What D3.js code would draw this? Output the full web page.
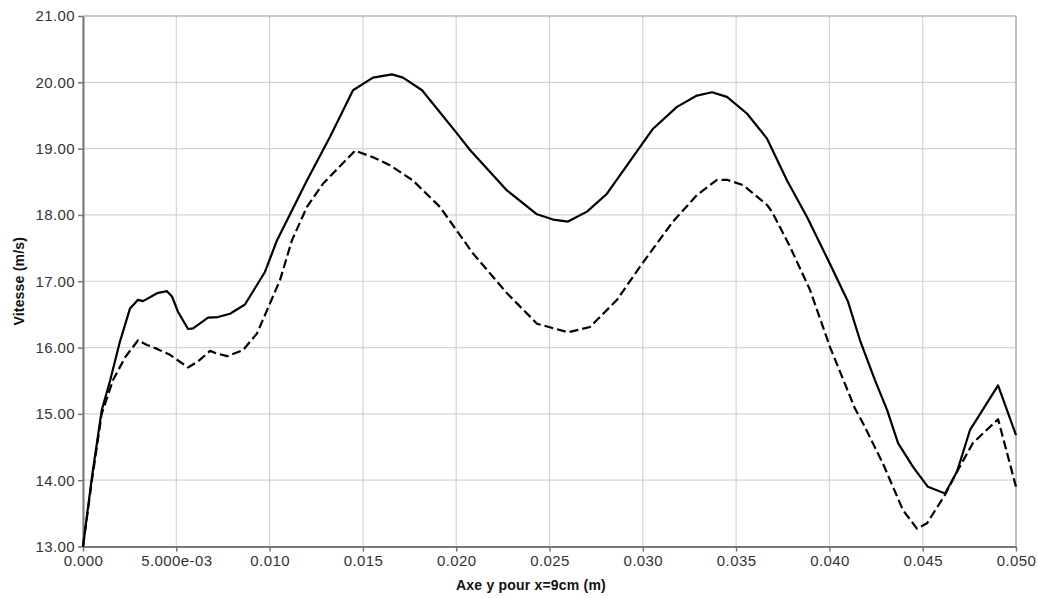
<!DOCTYPE html>
<html><head><meta charset="utf-8">
<script src="https://cdn.jsdelivr.net/npm/d3@7"></script>
<style>
html,body{margin:0;padding:0;background:#fff;}
svg{display:block;font-family:"Liberation Sans",Arial,Helvetica,sans-serif;}
</style></head>
<body><svg id="chart" width="1038" height="598"></svg>
<script>
// Solid series
const solidX = [0,0.00048,0.00100,0.00145,0.00198,0.00252,0.00295,0.00322,0.00397,0.00450,0.00477,0.00509,0.00563,0.00590,0.00670,0.00723,0.00788,0.00868,0.00975,0.01040,0.01200,0.01324,0.01447,0.01554,0.01656,0.01715,0.01817,0.02004,0.02074,0.02272,0.02433,0.02519,0.02599,0.02701,0.02808,0.02974,0.03055,0.03183,0.03290,0.03371,0.03451,0.03558,0.03666,0.03773,0.03880,0.03993,0.04100,0.04164,0.04244,0.04309,0.04368,0.04448,0.04528,0.04620,0.04684,0.04754,0.04904,0.05000];
const solidY = [13.0,14.05,15.05,15.50,16.09,16.59,16.72,16.70,16.82,16.85,16.77,16.54,16.28,16.29,16.45,16.46,16.51,16.65,17.14,17.62,18.52,19.18,19.88,20.07,20.12,20.07,19.88,19.23,18.98,18.37,18.01,17.93,17.90,18.05,18.32,18.98,19.30,19.63,19.80,19.85,19.78,19.53,19.15,18.52,17.97,17.32,16.69,16.11,15.51,15.06,14.56,14.20,13.90,13.80,14.13,14.76,15.43,14.68];
// Dashed series
const dashX = [0,0.00048,0.00100,0.00161,0.00225,0.00295,0.00343,0.00397,0.00466,0.00563,0.00616,0.00681,0.00718,0.00772,0.00857,0.00932,0.00986,0.01056,0.01120,0.01200,0.01286,0.01458,0.01554,0.01645,0.01768,0.01913,0.02090,0.02272,0.02433,0.02599,0.02717,0.02862,0.02985,0.03162,0.03290,0.03398,0.03451,0.03537,0.03666,0.03692,0.03789,0.03896,0.04003,0.04137,0.04180,0.04287,0.04394,0.04469,0.04523,0.04620,0.04684,0.04769,0.04904,0.05000];
const dashY = [13.0,14.0,15.0,15.51,15.85,16.11,16.04,15.98,15.89,15.70,15.79,15.95,15.91,15.87,15.96,16.21,16.56,17.02,17.62,18.12,18.47,18.97,18.87,18.75,18.52,18.12,17.42,16.82,16.36,16.23,16.31,16.72,17.22,17.90,18.30,18.53,18.53,18.45,18.15,18.05,17.52,16.87,16.01,15.08,14.86,14.25,13.55,13.27,13.35,13.78,14.13,14.56,14.92,13.90];

const xTicks = [0,0.005,0.010,0.015,0.020,0.025,0.030,0.035,0.040,0.045,0.050];
const xTickLabels = ["0.000","5.000e-03","0.010","0.015","0.020","0.025","0.030","0.035","0.040","0.045","0.050"];
const yTicks = [13,14,15,16,17,18,19,20,21];
const yTickLabels = ["13.00","14.00","15.00","16.00","17.00","18.00","19.00","20.00","21.00"];
const xTitle = "Axe y pour x=9cm (m)";
const yTitle = "Vitesse (m/s)";

const svg = d3.select("#chart");
const L = 83, R = 1016, T = 16, B = 546.5;
const x = d3.scaleLinear().domain([0,0.05]).range([L,R]);
const y = d3.scaleLinear().domain([13,21]).range([B,T]);

// grid
const g = svg.append("g");
g.selectAll(".vg").data(xTicks).enter().append("line")
  .attr("x1",d=>x(d)).attr("x2",d=>x(d)).attr("y1",T).attr("y2",B)
  .attr("stroke","#d4d4d4").attr("stroke-width",1.2);
g.selectAll(".hg").data(yTicks).enter().append("line")
  .attr("x1",L).attr("x2",R).attr("y1",d=>y(d)).attr("y2",d=>y(d))
  .attr("stroke","#d4d4d4").attr("stroke-width",1.2);
// frame top/right
svg.append("line").attr("x1",L).attr("x2",R).attr("y1",T).attr("y2",T).attr("stroke","#aaa").attr("stroke-width",1.2);
svg.append("line").attr("x1",R).attr("x2",R).attr("y1",T).attr("y2",B).attr("stroke","#aaa").attr("stroke-width",1.2);

// axes
const xAxis = d3.axisBottom(x).tickValues(xTicks).tickFormat((d,i)=>xTickLabels[i]).tickSize(5).tickSizeOuter(0);
const yAxis = d3.axisLeft(y).tickValues(yTicks).tickFormat((d,i)=>yTickLabels[i]).tickSize(5).tickSizeOuter(0);
const gx = svg.append("g").attr("transform",`translate(0,${B})`).call(xAxis);
const gy = svg.append("g").attr("transform",`translate(${L},0)`).call(yAxis);
[gx,gy].forEach(a=>{
  a.select(".domain").attr("stroke","#777").attr("stroke-width",2);
  a.selectAll(".tick line").attr("stroke","#777").attr("stroke-width",1.5);
  a.selectAll("text").attr("fill","#333").style("font-size","15px").style("letter-spacing","0.4px")
    .style("font-family","'Liberation Sans',Arial,sans-serif");
});
gx.selectAll("text").attr("dy","0.71em").attr("y",9);
gy.selectAll("text").attr("x",-8);

// lines
const line = d3.line().x(d=>x(d[0])).y(d=>y(d[1])).curve(d3.curveLinear);
const solid = solidX.map((v,i)=>[v,solidY[i]]);
const dashed = dashX.map((v,i)=>[v,dashY[i]]);
svg.append("path").datum(dashed).attr("d",line).attr("fill","none")
  .attr("stroke","#000").attr("stroke-width",2.2).attr("stroke-dasharray","9,4").attr("stroke-linejoin","round");
svg.append("path").datum(solid).attr("d",line).attr("fill","none")
  .attr("stroke","#000").attr("stroke-width",2.2).attr("stroke-linejoin","round");

// titles
svg.append("text").attr("x",531).attr("y",590).attr("text-anchor","middle")
  .style("font-size","14px").style("letter-spacing","0.2px").style("font-weight","bold").attr("fill","#111").text(xTitle);
svg.append("text").attr("transform",`translate(24,${(T+B)/2}) rotate(-90)`).attr("text-anchor","middle")
  .style("font-size","14px").style("letter-spacing","0.2px").style("font-weight","bold").attr("fill","#111").text(yTitle);
</script></body></html>
